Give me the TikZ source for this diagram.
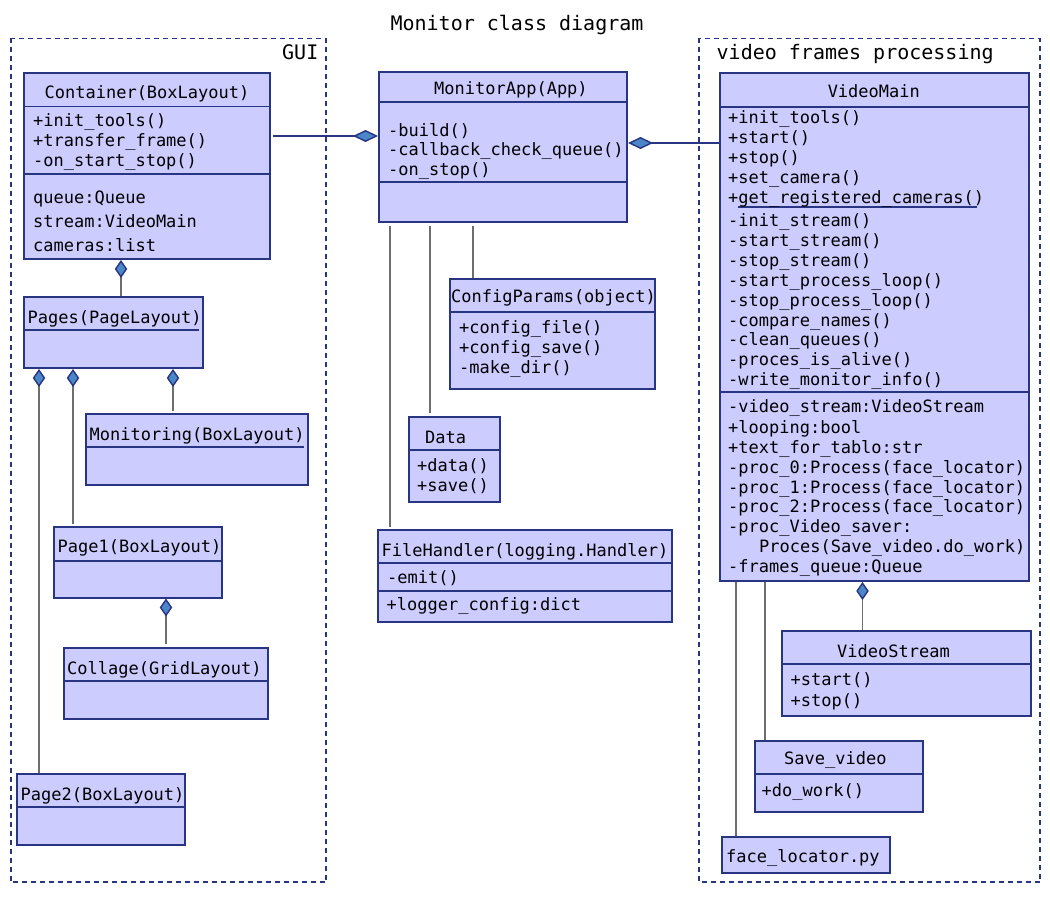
\documentclass[tikz,border=0pt]{standalone}
\usepackage{fontspec}
\setmonofont{DejaVu Sans Mono}
\usetikzlibrary{arrows.meta}
\tikzset{>=latex}
\definecolor{umlnavy}{RGB}{40,53,131}
\definecolor{umlfill}{RGB}{204,204,255}
\definecolor{umldiamond}{RGB}{74,134,200}
\definecolor{umlgray}{RGB}{110,110,110}
\newcommand{\membfont}{\ttfamily\fontsize{17}{20}\selectfont}
\newcommand{\pkgfont}{\ttfamily\fontsize{20}{24}\selectfont}
\tikzstyle{classbox}=[draw=umlnavy,fill=umlfill,line width=2pt,inner sep=0pt,anchor=north west]
\tikzstyle{divider}=[draw=umlnavy,line width=1.8pt]
\tikzstyle{package}=[draw=umlnavy,line width=1.8pt,dash pattern=on 5pt off 4pt]
\tikzstyle{member}=[anchor=base west,inner sep=0pt,font=\membfont]
\tikzstyle{pkglabel}=[inner sep=0pt,font=\pkgfont]
\tikzstyle{link}=[draw=umlgray,line width=1.2pt]
\tikzstyle{comp}=[link,{Diamond[length=18pt,width=12.5pt,color=umlnavy,fill=umldiamond,line width=1.4pt]}-]
\tikzstyle{compnavy}=[draw=umlnavy,line width=1.8pt,{Diamond[length=25pt,width=12pt,color=umlnavy,fill=umldiamond,line width=1.4pt]}-]

\begin{document}
\begin{tikzpicture}[x=1pt,y=-1pt]
  \fill[white] (0,0) rectangle (1050,920);
  \useasboundingbox (0,0) rectangle (1050,920);

  % packages
  \draw[package] (11,38.5) rectangle (326,882);
  \draw[package] (699,38.5) rectangle (1040,882);
  \node[pkglabel,anchor=base] (title) at (517,31) {Monitor class diagram};
  \node[pkglabel,anchor=base east] (gui) at (318.5,60) {GUI};
  \node[pkglabel,anchor=base west] (vfp) at (716.5,60) {video frames processing};

  % class boxes
  \node[classbox,minimum width=246pt,minimum height=186pt] (cont) at (23,72) {};
  \node[classbox,minimum width=248pt,minimum height=150pt] (app) at (378,71) {};
  \node[classbox,minimum width=309pt,minimum height=508pt] (vmain) at (719,72) {};
  \node[classbox,minimum width=205pt,minimum height=109pt] (cfg) at (448.5,278.5) {};
  \node[classbox,minimum width=91pt,minimum height=84.5pt] (data) at (408,416) {};
  \node[classbox,minimum width=294pt,minimum height=91.5pt] (fh) at (377,529) {};
  \node[classbox,minimum width=179pt,minimum height=71pt] (pages) at (23,296) {};
  \node[classbox,minimum width=221.5pt,minimum height=70.5pt] (mon) at (85,413) {};
  \node[classbox,minimum width=168pt,minimum height=70.5pt] (pg1) at (53,526) {};
  \node[classbox,minimum width=204pt,minimum height=70.5pt] (coll) at (63,647) {};
  \node[classbox,minimum width=168pt,minimum height=71pt] (pg2) at (16,773) {};
  \node[classbox,minimum width=249pt,minimum height=84.5pt] (vs) at (781,630) {};
  \node[classbox,minimum width=168pt,minimum height=70.5pt] (sv) at (754,740) {};
  \node[classbox,minimum width=168pt,minimum height=36pt] (face) at (721,836) {};

  % compartments
  \draw[divider] (cont.west |- 0,106.5) -- (cont.east |- 0,106.5);
  \draw[divider] (cont.west |- 0,174) -- (cont.east |- 0,174);
  \draw[divider] (app.west |- 0,102.3) -- (app.east |- 0,102.3);
  \draw[divider] (app.west |- 0,182.3) -- (app.east |- 0,182.3);
  \draw[divider] (vmain.west |- 0,106.7) -- (vmain.east |- 0,106.7);
  \draw[divider] (vmain.west |- 0,392) -- (vmain.east |- 0,392);
  \draw[divider] (738.3,206.7) -- (976.7,206.7);
  \draw[divider] (cfg.west |- 0,312.3) -- (cfg.east |- 0,312.3);
  \draw[divider] (data.west |- 0,450.3) -- (data.east |- 0,450.3);
  \draw[divider] (fh.west |- 0,562.7) -- (fh.east |- 0,562.7);
  \draw[divider] (fh.west |- 0,591) -- (fh.east |- 0,591);
  \draw[divider] (pages.west |- 0,330) -- (199,330);
  \draw[divider] (mon.west |- 0,446.7) -- (304,446.7);
  \draw[divider] (pg1.west |- 0,560.7) -- (pg1.east |- 0,560.7);
  \draw[divider] (coll.west |- 0,681) -- (coll.east |- 0,681);
  \draw[divider] (pg2.west |- 0,807.3) -- (pg2.east |- 0,807.3);
  \draw[divider] (vs.west |- 0,664.3) -- (vs.east |- 0,664.3);
  \draw[divider] (sv.west |- 0,774) -- (sv.east |- 0,774);

  % class names
  \node[member,anchor=base] (cont-t) at (147,99)    {Container(BoxLayout)};
  \node[member] (app-t)   at (434,94.3)   {MonitorApp(App)};
  \node[member,anchor=base] (vmain-t) at (873.8,97.3) {VideoMain};
  \node[member] (cfg-t)   at (451,302.3)  {ConfigParams(object)};
  \node[member] (data-t)  at (425,443.3)  {Data};
  \node[member] (fh-t)    at (381.5,556)  {FileHandler(logging.Handler)};
  \node[member] (pages-t) at (27.5,323.3) {Pages(PageLayout)};
  \node[member] (mon-t)   at (89.5,440)   {Monitoring(BoxLayout)};
  \node[member] (pg1-t)   at (57.5,552.7) {Page1(BoxLayout)};
  \node[member] (coll-t)  at (67,674)     {Collage(GridLayout)};
  \node[member] (pg2-t)   at (20.5,800)   {Page2(BoxLayout)};
  \node[member] (vs-t)    at (837,657.3)  {VideoStream};
  \node[member] (sv-t)    at (784,764)    {Save\_video};
  \node[member] (face-t)  at (726,862.7)  {face\_locator.py};

  % members
  \node[member] (cont-m1) at (33,126.5) {+init\_tools()};
  \node[member] (cont-m2) at (33,146.5) {+transfer\_frame()};
  \node[member] (cont-m3) at (33,166.5) {-on\_start\_stop()};
  \node[member] (cont-a1) at (33,204)   {queue:Queue};
  \node[member] (cont-a2) at (33,228)   {stream:VideoMain};
  \node[member] (cont-a3) at (33,251.7) {cameras:list};

  \node[member] (app-m1) at (388,136.5) {-build()};
  \node[member] (app-m2) at (388,156)   {-callback\_check\_queue()};
  \node[member] (app-m3) at (388,175.5) {-on\_stop()};

  \node[member] (vmain-m1)  at (728,124)   {+init\_tools()};
  \node[member] (vmain-m2)  at (728,143.8) {+start()};
  \node[member] (vmain-m3)  at (728,163.6) {+stop()};
  \node[member] (vmain-m4)  at (728,183.4) {+set\_camera()};
  \node[member] (vmain-m5)  at (728,203.2) {+get\_registered\_cameras()};
  \node[member] (vmain-m6)  at (728,227)   {-init\_stream()};
  \node[member] (vmain-m7)  at (728,246.8) {-start\_stream()};
  \node[member] (vmain-m8)  at (728,266.6) {-stop\_stream()};
  \node[member] (vmain-m9)  at (728,286.4) {-start\_process\_loop()};
  \node[member] (vmain-m10) at (728,306.2) {-stop\_process\_loop()};
  \node[member] (vmain-m11) at (728,326)   {-compare\_names()};
  \node[member] (vmain-m12) at (728,345.8) {-clean\_queues()};
  \node[member] (vmain-m13) at (728,365.6) {-proces\_is\_alive()};
  \node[member] (vmain-m14) at (728,385.4) {-write\_monitor\_info()};
  \node[member] (vmain-a1)  at (728,412)   {-video\_stream:VideoStream};
  \node[member] (vmain-a2)  at (728,433.3) {+looping:bool};
  \node[member] (vmain-a3)  at (728,453.2) {+text\_for\_tablo:str};
  \node[member] (vmain-a4)  at (728,473.1) {-proc\_0:Process(face\_locator)};
  \node[member] (vmain-a5)  at (728,493)   {-proc\_1:Process(face\_locator)};
  \node[member] (vmain-a6)  at (728,512.9) {-proc\_2:Process(face\_locator)};
  \node[member] (vmain-a7)  at (728,532.8) {-proc\_Video\_saver:};
  \node[member] (vmain-a7b) at (759,552.7) {Proces(Save\_video.do\_work)};
  \node[member] (vmain-a8)  at (728,572.6) {-frames\_queue:Queue};

  \node[member] (cfg-m1) at (459,333.5) {+config\_file()};
  \node[member] (cfg-m2) at (459,353.5) {+config\_save()};
  \node[member] (cfg-m3) at (459,373.5) {-make\_dir()};

  \node[member] (data-m1) at (417,471)   {+data()};
  \node[member] (data-m2) at (417,491.5) {+save()};

  \node[member] (fh-m1) at (387,583.3) {-emit()};
  \node[member] (fh-a1) at (386.5,610) {+logger\_config:dict};

  \node[member] (vs-m1) at (790.5,685) {+start()};
  \node[member] (vs-m2) at (790.5,706) {+stop()};

  \node[member] (sv-m1) at (761.5,796) {+do\_work()};

  % connectors
  \draw[compnavy,shorten >=2pt] (app.west |- 0,136) -- (cont.east |- 0,136);
  \draw[compnavy] (app.east |- 0,143) -- (vmain.west |- 0,143);
  \draw[comp] (cont.south -| 121,0) -- (pages.north -| 121,0);
  \draw[comp] (pages.south -| 39,0) -- (pg2.north -| 39,0);
  \draw[comp,shorten >=2.5pt] (pages.south -| 73,0) -- (pg1.north -| 73,0);
  \draw[comp,shorten >=2pt] (pages.south -| 173,0) -- (mon.north -| 173,0);
  \draw[comp,shorten >=3.5pt] (pg1.south -| 166,0) -- (coll.north -| 166,0);
  \draw[comp] (vmain.south -| 862.5,0) -- (vs.north -| 862.5,0);
  \draw[link,shorten <=3pt,shorten >=2.5pt] (app.south -| 390,0) -- (fh.north -| 390,0);
  \draw[link,shorten <=3pt,shorten >=3pt] (app.south -| 430,0) -- (data.north -| 430,0);
  \draw[link,shorten <=3.5pt] (app.south -| 473,0) -- (cfg.north -| 473,0);
  \draw[link] (vmain.south -| 736,0) -- (face.north -| 736,0);
  \draw[link] (vmain.south -| 765,0) -- (sv.north -| 765,0);
\end{tikzpicture}
\end{document}
